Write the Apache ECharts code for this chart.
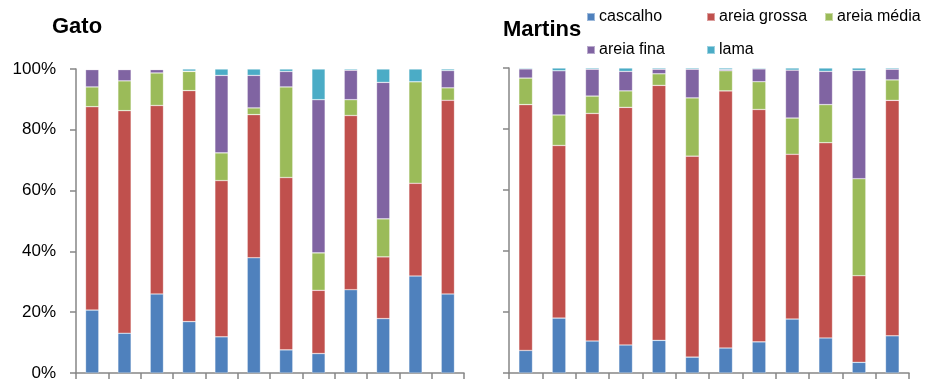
<!DOCTYPE html>
<html>
<head>
<meta charset="utf-8">
<script src="https://cdn.jsdelivr.net/npm/echarts@6/dist/echarts.min.js"></script>
<style>
html,body{margin:0;padding:0;background:#fff;}
#chart{width:925px;height:383px;}
</style>
</head>
<body>
<div id="chart"></div>
<script>
const categories = ['1','2','3','4','5','6','7','8','9','10','11','12'];
const seriesNames = ['cascalho','areia grossa','areia média','areia fina','lama'];
const yTicks = [0, 20, 40, 60, 80, 100];

// Gato (%)
const gatoCascalho = [20.7, 13.1, 26.0, 16.9, 11.9, 37.9, 7.6, 6.4, 27.4, 17.9, 31.9, 26.0];
const gatoGrossa   = [66.9, 73.2, 62.0, 76.0, 51.4, 47.1, 56.7, 20.8, 57.3, 20.3, 30.5, 63.7];
const gatoMedia    = [6.5, 9.8, 10.7, 6.3, 9.1, 2.2, 29.8, 12.3, 5.2, 12.5, 33.4, 4.1];
const gatoFina     = [5.7, 3.7, 1.1, 0.1, 25.5, 10.7, 5.1, 50.4, 9.7, 44.9, 0, 5.7];
const gatoLama     = [0.2, 0.2, 0.2, 0.7, 2.1, 2.1, 0.8, 10.1, 0.4, 4.4, 4.2, 0.5];

// Martins (%)
const martinsCascalho = [7.4, 18.0, 10.5, 9.2, 10.7, 5.2, 8.2, 10.2, 17.7, 11.5, 3.5, 12.2];
const martinsGrossa   = [80.6, 56.6, 74.6, 77.9, 83.6, 65.9, 84.3, 76.2, 54.0, 64.0, 28.4, 77.2];
const martinsMedia    = [8.7, 10.0, 5.7, 5.4, 3.8, 19.1, 6.6, 9.1, 11.9, 12.5, 31.8, 6.7];
const martinsFina     = [3.0, 14.5, 8.8, 6.4, 1.5, 9.4, 0.4, 4.2, 15.7, 10.9, 35.5, 3.5];
const martinsLama     = [0.3, 0.9, 0.4, 1.1, 0.4, 0.4, 0.5, 0.3, 0.7, 1.1, 0.8, 0.4];

const colors = ['#4F81BD','#C0504D','#9BBB59','#8064A2','#4BACC6'];
const gatoData = [gatoCascalho, gatoGrossa, gatoMedia, gatoFina, gatoLama];
const martinsData = [martinsCascalho, martinsGrossa, martinsMedia, martinsFina, martinsLama];

const FONT = 'Liberation Sans, Arial, sans-serif';
const axisColor = '#868686';

function xAxis(gridIndex){
  return {
    type:'category', gridIndex, data:categories, boundaryGap:true,
    axisLine:{show:true, lineStyle:{color:axisColor, width:1.5}},
    axisTick:{show:true, alignWithLabel:false, inside:false, length:6, lineStyle:{color:axisColor, width:1.5}},
    axisLabel:{show:false}, splitLine:{show:false}
  };
}
function yAxis(gridIndex, showLabel){
  return {
    type:'value', gridIndex, min:0, max:100, interval:20,
    axisLine:{show:true, lineStyle:{color:axisColor, width:1.5}},
    axisTick:{show:true, length:6, lineStyle:{color:axisColor, width:1.5}},
    axisLabel:{show:showLabel, formatter: v => yTicks.includes(v) ? v + '%' : '', margin:20,
      fontFamily:FONT, fontSize:17, color:'#000'},
    splitLine:{show:false}
  };
}

const series = [];
[gatoData, martinsData].forEach((dataset, gi) => {
  dataset.forEach((vals, si) => {
    series.push({
      name: seriesNames[si], type:'bar', stack:'s'+gi,
      xAxisIndex:gi, yAxisIndex:gi, barWidth:'41%',
      data: vals,
      itemStyle:{color:colors[si], borderColor:'rgba(255,255,255,0.45)', borderWidth:0.6},
      emphasis:{disabled:true}
    });
  });
});

const legendPos = [
  {name:'cascalho', left:586, top:9},
  {name:'areia grossa', left:706, top:9},
  {name:'areia média', left:824, top:9},
  {name:'areia fina', left:586, top:42},
  {name:'lama', left:706, top:42}
];

const option = {
  animation:false,
  color: colors,
  title:[
    {text:'Gato', left:52, top:16, padding:0, textStyle:{fontFamily:FONT, fontSize:22, fontWeight:'bold', color:'#000'}},
    {text:'Martins', left:503, top:19, padding:0, textStyle:{fontFamily:FONT, fontSize:22, fontWeight:'bold', color:'#000'}}
  ],
  legend: legendPos.map(l => ({
    data:[{name:l.name, icon:'rect'}], left:l.left, top:l.top, padding:0,
    itemWidth:8, itemHeight:8, itemGap:5, selectedMode:false,
    textStyle:{fontFamily:FONT, fontSize:16, color:'#000', padding:[0,0,0,-1]}
  })),
  grid:[
    {left:76, top:69, width:388, height:304},
    {left:509, top:68, width:400, height:305}
  ],
  xAxis:[xAxis(0), xAxis(1)],
  yAxis:[yAxis(0,true), yAxis(1,false)],
  series
};

const chart = echarts.init(document.getElementById('chart'), null, {renderer:'canvas'});
chart.setOption(option);
</script>
</body>
</html>
